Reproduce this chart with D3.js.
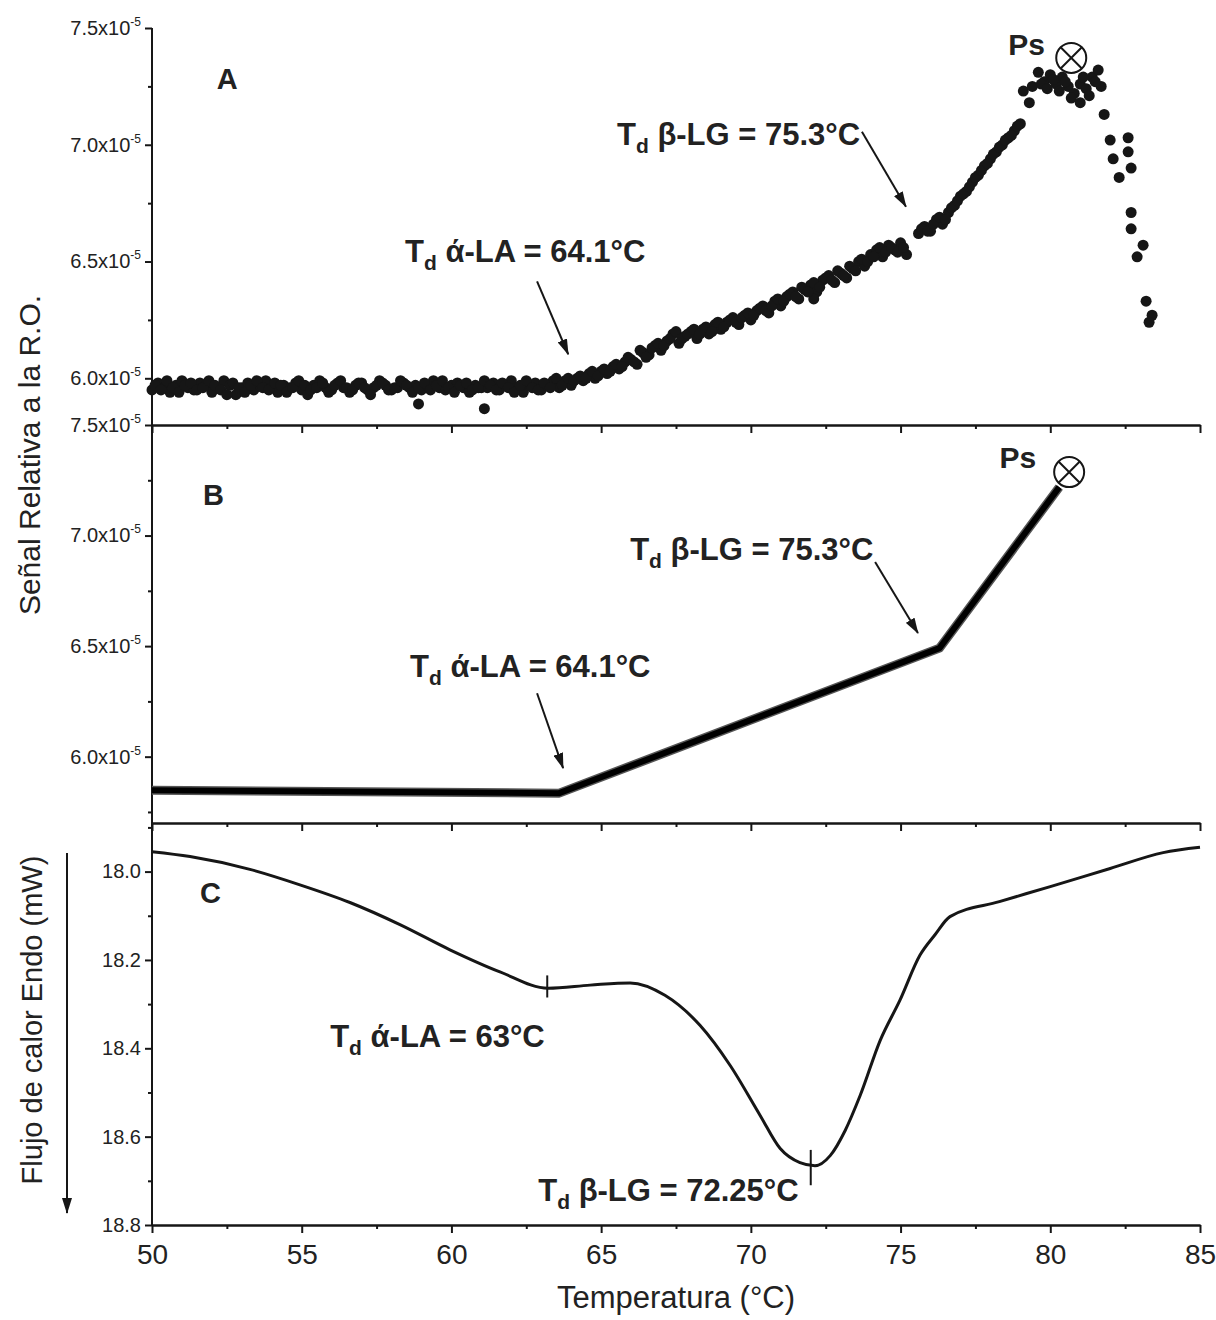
<!DOCTYPE html>
<html>
<head>
<meta charset="utf-8">
<script src="https://cdn.jsdelivr.net/npm/d3@7"></script>
<style>
body { margin: 0; background: #fff; }
svg text { font-family: Arial, "Liberation Sans", sans-serif; fill: #222; }
</style>
</head>
<body>
<svg id="chart" width="1216" height="1320"></svg>
<script>
// Panel A: measured signal relative to R.O. (units of 10^-5) vs temperature (°C)
const tempA = [
  50.0, 50.2, 50.4, 50.6, 50.8, 51.0, 51.2, 51.4, 51.6, 51.8,
  52.0, 52.2, 52.4, 52.6, 52.8, 53.0, 53.2, 53.4, 53.6, 53.8,
  54.0, 54.2, 54.4, 54.6, 54.8, 55.0, 55.2, 55.4, 55.6, 55.8,
  56.0, 56.2, 56.4, 56.6, 56.8, 57.0, 57.2, 57.4, 57.6, 57.8,
  58.0, 58.2, 58.4, 58.6, 58.8, 59.0, 59.2, 59.4, 59.6, 59.8,
  60.0, 60.2, 60.4, 60.6, 60.8, 61.0, 61.2, 61.4, 61.6, 61.8,
  62.0, 62.2, 62.4, 62.6, 62.8, 63.0, 63.2, 63.4, 63.6,
  63.8, 64.0, 64.2, 64.4, 64.6, 64.8, 65.0, 65.2, 65.4, 65.6,
  65.8, 66.0, 66.2, 66.4, 66.6, 66.8, 67.0, 67.2, 67.4, 67.6,
  67.8, 68.0, 68.2, 68.4, 68.6, 68.8, 69.0, 69.2, 69.4, 69.6,
  69.8, 70.0, 70.2, 70.4, 70.6, 70.8, 71.0, 71.2, 71.4, 71.6,
  71.8, 72.0, 72.2, 72.4, 72.6, 72.8, 73.0, 73.2, 73.4, 73.6,
  73.8, 74.0, 74.2, 74.4, 74.6, 74.8, 75.0, 75.2, 75.6, 75.8,
  76.0, 76.2, 76.4, 76.6, 76.8, 77.0, 77.2, 77.4, 77.6, 77.8,
  78.0, 78.2, 78.4, 78.6, 78.8, 79.0,
  79.1, 79.3, 79.6, 79.8, 80.0, 80.2, 80.4, 80.6, 80.8, 81.0,
  81.2, 81.4, 81.6, 81.7, 80.7, 81.0, 81.3,
  81.8, 82.0, 82.1, 82.3, 82.6, 82.6, 82.7, 82.7, 82.7, 82.9,
  83.1, 83.2, 83.4, 83.3,
  58.9, 61.1, 72.1
];
const signalA = [
  5.95, 5.98, 5.96, 5.94, 5.97, 5.99, 5.96, 5.95, 5.98, 5.97,
  5.94, 5.96, 5.99, 5.97, 5.93, 5.96, 5.98, 5.95, 5.97, 5.99,
  5.96, 5.94, 5.97, 5.96, 5.98, 5.95, 5.93, 5.97, 5.99, 5.96,
  5.95, 5.98, 5.96, 5.94, 5.97, 5.98, 5.95, 5.96, 5.99, 5.97,
  5.95, 5.96, 5.98, 5.96, 5.97, 5.95, 5.97, 5.99, 5.96, 5.95,
  5.97, 5.98, 5.96, 5.94, 5.97, 5.96, 5.96, 5.98, 5.95, 5.97,
  5.99, 5.96, 5.94, 5.97, 5.98, 5.95, 5.97, 5.99, 5.96,
  5.99, 5.97, 6.00, 5.99, 6.02, 6.00, 6.03, 6.02, 6.05, 6.04,
  6.07, 6.08, 6.06, 6.11, 6.10, 6.14, 6.12, 6.16, 6.19, 6.15,
  6.18, 6.20, 6.17, 6.21, 6.19, 6.23, 6.21, 6.24, 6.26, 6.23,
  6.27, 6.25, 6.29, 6.31, 6.28, 6.33, 6.31, 6.35, 6.37, 6.34,
  6.38, 6.40, 6.37, 6.42, 6.44, 6.41, 6.45, 6.43, 6.47, 6.50,
  6.48, 6.53, 6.55, 6.52, 6.57, 6.55, 6.58, 6.53, 6.62, 6.65,
  6.63, 6.68, 6.66, 6.71, 6.74, 6.78, 6.80, 6.84, 6.87, 6.91,
  6.94, 6.97, 7.00, 7.03, 7.06, 7.09,
  7.23, 7.18, 7.31, 7.27, 7.30, 7.26, 7.29, 7.25, 7.22, 7.26,
  7.24, 7.29, 7.32, 7.25, 7.20, 7.18, 7.21,
  7.13, 7.02, 6.94, 6.86, 7.03, 6.97, 6.90, 6.71, 6.64, 6.52,
  6.57, 6.33, 6.27, 6.24,
  5.89, 5.87, 6.34
];
// second (interleaved) set of readings in panel A
const tempA2 = [
  50.1, 50.3, 50.5, 50.7, 50.9, 51.1, 51.3, 51.5, 51.7, 51.9,
  52.1, 52.3, 52.5, 52.7, 52.9, 53.1, 53.3, 53.5, 53.7, 53.9,
  54.1, 54.3, 54.5, 54.7, 54.9, 55.1, 55.3, 55.5, 55.7, 55.9,
  56.1, 56.3, 56.5, 56.7, 56.9, 57.1, 57.3, 57.5, 57.7, 57.9,
  58.1, 58.3, 58.5, 58.7, 58.9, 59.1, 59.3, 59.5, 59.7, 59.9,
  60.1, 60.3, 60.5, 60.7, 60.9, 61.1, 61.3, 61.5, 61.7, 61.9,
  62.1, 62.3, 62.5, 62.7, 62.9, 63.1, 63.3, 63.5,
  63.7, 63.9, 64.1, 64.3, 64.5, 64.7, 64.9, 65.1, 65.3, 65.5,
  65.7, 65.9, 66.1, 66.3, 66.5, 66.7, 66.9, 67.1, 67.3, 67.5,
  67.7, 67.9, 68.1, 68.3, 68.5, 68.7, 68.9, 69.1, 69.3, 69.5,
  69.7, 69.9, 70.1, 70.3, 70.5, 70.7, 70.9, 71.1, 71.3, 71.5,
  71.7, 71.9, 72.1, 72.3, 72.5, 72.7, 72.9, 73.1, 73.3, 73.5,
  73.7, 73.9, 74.1, 74.3, 74.5, 74.7, 74.9, 75.1,
  75.7, 75.9, 76.1, 76.3, 76.5, 76.7, 76.9, 77.1, 77.3, 77.5,
  77.7, 77.9, 78.1, 78.3, 78.5, 78.7, 78.9,
  79.4, 79.7, 79.9, 80.1, 80.3, 80.5, 81.1, 81.5
];
const signalA2 = [
  5.97, 5.95, 5.99, 5.96, 5.94, 5.97, 5.98, 5.95, 5.96, 5.99,
  5.97, 5.95, 5.93, 5.98, 5.96, 5.94, 5.97, 5.99, 5.96, 5.95,
  5.98, 5.97, 5.94, 5.96, 5.99, 5.97, 5.95, 5.96, 5.98, 5.94,
  5.97, 5.99, 5.96, 5.95, 5.98, 5.96, 5.93, 5.97, 5.98, 5.95,
  5.96, 5.99, 5.97, 5.94, 5.96, 5.98, 5.95, 5.97, 5.99, 5.96,
  5.94, 5.97, 5.98, 5.95, 5.96, 5.99, 5.97, 5.95, 5.98, 5.96,
  5.94, 5.97, 5.99, 5.96, 5.95, 5.98, 5.96, 6.00,
  5.97, 6.00, 5.99, 6.01, 6.00, 6.03, 6.01, 6.04, 6.03, 6.06,
  6.05, 6.09, 6.07, 6.12, 6.09, 6.13, 6.15, 6.14, 6.17, 6.20,
  6.17, 6.19, 6.21, 6.19, 6.22, 6.20, 6.24, 6.22, 6.25, 6.24,
  6.26, 6.28, 6.27, 6.30, 6.29, 6.31, 6.34, 6.33, 6.36, 6.35,
  6.39, 6.37, 6.41, 6.39, 6.43, 6.42, 6.46, 6.44, 6.48, 6.46,
  6.51, 6.50, 6.52, 6.56, 6.54, 6.56, 6.54, 6.56,
  6.64, 6.63, 6.66, 6.69, 6.68, 6.73, 6.76, 6.79, 6.82, 6.86,
  6.89, 6.92, 6.96, 6.99, 7.02, 7.04, 7.08,
  7.25, 7.26, 7.24, 7.28, 7.23, 7.27, 7.29, 7.27
];

// Panel B: fitted signal (units of 10^-5)
const tempB = [50.0, 63.6, 76.3, 80.3];
const signalB = [5.848, 5.835, 6.491, 7.219];

// Panel C: heat flow, endo down (mW)
const tempC = [50.0, 51.27, 53.27, 54.94, 56.61, 58.28, 59.95, 61.62, 63.23, 64.63,
  65.97, 67.13, 68.30, 69.31, 70.31, 70.98, 71.64, 72.14, 72.65, 73.15,
  73.65, 74.32, 74.98, 75.65, 76.15, 76.65, 78.3, 80.0, 82.0, 83.77, 85.0];
const heatC = [17.955, 17.966, 17.995, 18.030, 18.070, 18.120, 18.177, 18.227, 18.264, 18.257,
  18.252, 18.280, 18.348, 18.439, 18.552, 18.627, 18.659, 18.666, 18.643, 18.586,
  18.507, 18.382, 18.291, 18.189, 18.143, 18.102, 18.068, 18.034, 17.993, 17.957, 17.945];

// ticks
const xTicks = [50, 55, 60, 65, 70, 75, 80, 85];
const xMinor = [52.5, 57.5, 62.5, 67.5, 72.5, 77.5, 82.5];
const ticksA = [6.0, 6.5, 7.0, 7.5];
const minorA = [6.25, 6.75, 7.25];
const ticksB = [6.0, 6.5, 7.0, 7.5];
const minorB = [5.75, 6.25, 6.75, 7.25];
const ticksC = [18.0, 18.2, 18.4, 18.6, 18.8];
const minorC = [17.9, 18.1, 18.3, 18.5, 18.7];

const svg = d3.select("#chart");
const ink = "#161616";

const x = d3.scaleLinear().domain([50, 85]).range([152, 1200]);
const yA = d3.scaleLinear().domain([5.8, 7.5]).range([425, 28]);
const yB = d3.scaleLinear().domain([5.7, 7.5]).range([823, 425]);
const yC = d3.scaleLinear().domain([17.89, 18.8]).range([823, 1225]);

// arrow head
svg.append("defs").append("marker")
    .attr("id", "head")
    .attr("viewBox", "0 0 16 10")
    .attr("refX", 15).attr("refY", 5)
    .attr("markerWidth", 16).attr("markerHeight", 10)
    .attr("markerUnits", "userSpaceOnUse")
    .attr("orient", "auto")
  .append("path")
    .attr("d", "M0,0L16,5L0,10Z")
    .attr("fill", ink);

function styleAxis(g, size) {
    g.attr("font-size", size).attr("font-family", null).attr("color", ink);
    g.selectAll("line, path").attr("stroke-width", 2);
}

// x10^-5 labels
function sciLabels(g) {
    g.selectAll(".tick text").each(function(d) {
        const t = d3.select(this).text("");
        t.append("tspan").text(d3.format(".1f")(d) + "x10");
        t.append("tspan").text("-5").attr("font-size", 12).attr("dy", "-0.75em");
    });
}

// left axes
function leftAxis(scale, major, minor, sci) {
    const g = svg.append("g").attr("transform", "translate(152,0)");
    g.call(d3.axisLeft(scale).tickValues(major).tickSize(7).tickPadding(4).tickSizeOuter(0)
        .tickFormat(d3.format(".1f")));
    if (sci) sciLabels(g);
    g.append("g").call(d3.axisLeft(scale).tickValues(minor).tickSize(4).tickSizeOuter(0).tickFormat(""));
    g.selectAll(".domain").remove();
    styleAxis(g, 20);
}

leftAxis(yA, ticksA, minorA, true);
leftAxis(yB, ticksB, minorB, true);
leftAxis(yC, ticksC, minorC, false);

svg.append("line")
    .attr("x1", 152).attr("x2", 152)
    .attr("y1", yA.range()[1]).attr("y2", yC.range()[1])
    .attr("stroke", ink).attr("stroke-width", 2);

// bottom axes (panel separators)
function bottomAxis(yPos, labels) {
    const g = svg.append("g").attr("transform", `translate(0,${yPos})`);
    g.call(d3.axisBottom(x).tickValues(xTicks).tickSize(8).tickPadding(11).tickSizeOuter(0)
        .tickFormat(labels ? d3.format("d") : ""));
    g.append("g").call(d3.axisBottom(x).tickValues(xMinor).tickSize(4).tickSizeOuter(0).tickFormat(""));
    styleAxis(g, 28);
}
bottomAxis(yA.range()[0], false);
bottomAxis(yB.range()[0], false);
bottomAxis(yC.range()[1], true);

// Panel A scatter
svg.append("g")
    .selectAll("circle")
    .data(d3.zip(tempA, signalA).concat(d3.zip(tempA2, signalA2)))
    .join("circle")
    .attr("cx", d => x(d[0]))
    .attr("cy", d => yA(d[1]))
    .attr("r", 5.5)
    .attr("fill", ink);

// Panel B line
const lineB = d3.line().x(d => x(d[0])).y(d => yB(d[1]));
svg.append("path")
    .datum(d3.zip(tempB, signalB))
    .attr("fill", "none")
    .attr("stroke", "#555")
    .attr("stroke-width", 9)
    .attr("stroke-linejoin", "round")
    .attr("d", lineB);
svg.append("path")
    .datum(d3.zip(tempB, signalB))
    .attr("fill", "none")
    .attr("stroke", "#000")
    .attr("stroke-width", 6)
    .attr("stroke-linejoin", "round")
    .attr("d", lineB);

// Panel C curve
svg.append("path")
    .datum(d3.zip(tempC, heatC))
    .attr("fill", "none")
    .attr("stroke", ink)
    .attr("stroke-width", 3)
    .attr("d", d3.line().curve(d3.curveMonotoneX).x(d => x(d[0])).y(d => yC(d[1])));

// onset markers on the DSC curve
const markC = [[63.2, 18.235, 18.285], [72.0, 18.63, 18.71]];
svg.append("g").selectAll("line")
    .data(markC)
    .join("line")
    .attr("x1", d => x(d[0])).attr("x2", d => x(d[0]))
    .attr("y1", d => yC(d[1])).attr("y2", d => yC(d[2]))
    .attr("stroke", ink).attr("stroke-width", 2);

// annotations
function tdLabel(xv, yv, scaleY, rest) {
    const t = svg.append("text")
        .attr("x", x(xv)).attr("y", scaleY(yv))
        .attr("font-size", 31).attr("font-weight", "bold");
    t.append("tspan").text("T");
    t.append("tspan").text("d").attr("font-size", 21).attr("dy", 8);
    t.append("tspan").text(" " + rest).attr("dy", -8);
}

function arrow(x1, y1, x2, y2, scaleY) {
    svg.append("line")
        .attr("x1", x(x1)).attr("y1", scaleY(y1))
        .attr("x2", x(x2)).attr("y2", scaleY(y2))
        .attr("stroke", ink).attr("stroke-width", 2)
        .attr("marker-end", "url(#head)");
}

function ps(xv, yv, scaleY, lx, ly) {
    const cx = x(xv), cy = scaleY(yv), r = 15, k = r * 0.7071;
    svg.append("circle").attr("cx", cx).attr("cy", cy).attr("r", r)
        .attr("fill", "#fff").attr("stroke", ink).attr("stroke-width", 2);
    svg.append("path")
        .attr("d", `M${cx - k},${cy - k}L${cx + k},${cy + k}M${cx - k},${cy + k}L${cx + k},${cy - k}`)
        .attr("stroke", ink).attr("stroke-width", 2);
    svg.append("text").attr("x", x(lx)).attr("y", scaleY(ly))
        .attr("font-size", 30).attr("font-weight", "bold").text("Ps");
}

function panelLetter(xv, yv, scaleY, s) {
    svg.append("text").attr("x", x(xv)).attr("y", scaleY(yv))
        .attr("font-size", 29).attr("font-weight", "bold").text(s);
}

// A
panelLetter(52.16, 7.24, yA, "A");
tdLabel(58.45, 6.496, yA, "ά-LA = 64.1°C");
arrow(62.86, 6.415, 63.9, 6.103, yA);
tdLabel(65.53, 7.0, yA, "β-LG = 75.3°C");
arrow(73.71, 7.056, 75.18, 6.735, yA);
ps(80.7, 7.372, yA, 78.6, 7.383);

// B
panelLetter(51.7, 7.138, yB, "B");
tdLabel(58.62, 6.36, yB, "ά-LA = 64.1°C");
arrow(62.86, 6.287, 63.73, 5.948, yB);
tdLabel(65.97, 6.889, yB, "β-LG = 75.3°C");
arrow(74.15, 6.88, 75.58, 6.559, yB);
ps(80.63, 7.287, yB, 78.3, 7.305);

// C
panelLetter(51.6, 18.07, yC, "C");
tdLabel(55.95, 18.398, yC, "ά-LA = 63°C");
tdLabel(62.9, 18.745, yC, "β-LG = 72.25°C");

// axis titles
svg.append("text")
    .attr("transform", "translate(40,455) rotate(-90)")
    .attr("text-anchor", "middle")
    .attr("font-size", 30)
    .text("Señal Relativa a la R.O.");

svg.append("text")
    .attr("transform", "translate(42,1020) rotate(-90)")
    .attr("text-anchor", "middle")
    .attr("font-size", 29)
    .text("Flujo de calor Endo (mW)");

svg.append("line")
    .attr("x1", 67).attr("x2", 67)
    .attr("y1", 853).attr("y2", 1213)
    .attr("stroke", ink).attr("stroke-width", 2)
    .attr("marker-end", "url(#head)");

svg.append("text")
    .attr("x", 676).attr("y", 1308)
    .attr("text-anchor", "middle")
    .attr("font-size", 31)
    .text("Temperatura (°C)");
</script>
</body>
</html>
